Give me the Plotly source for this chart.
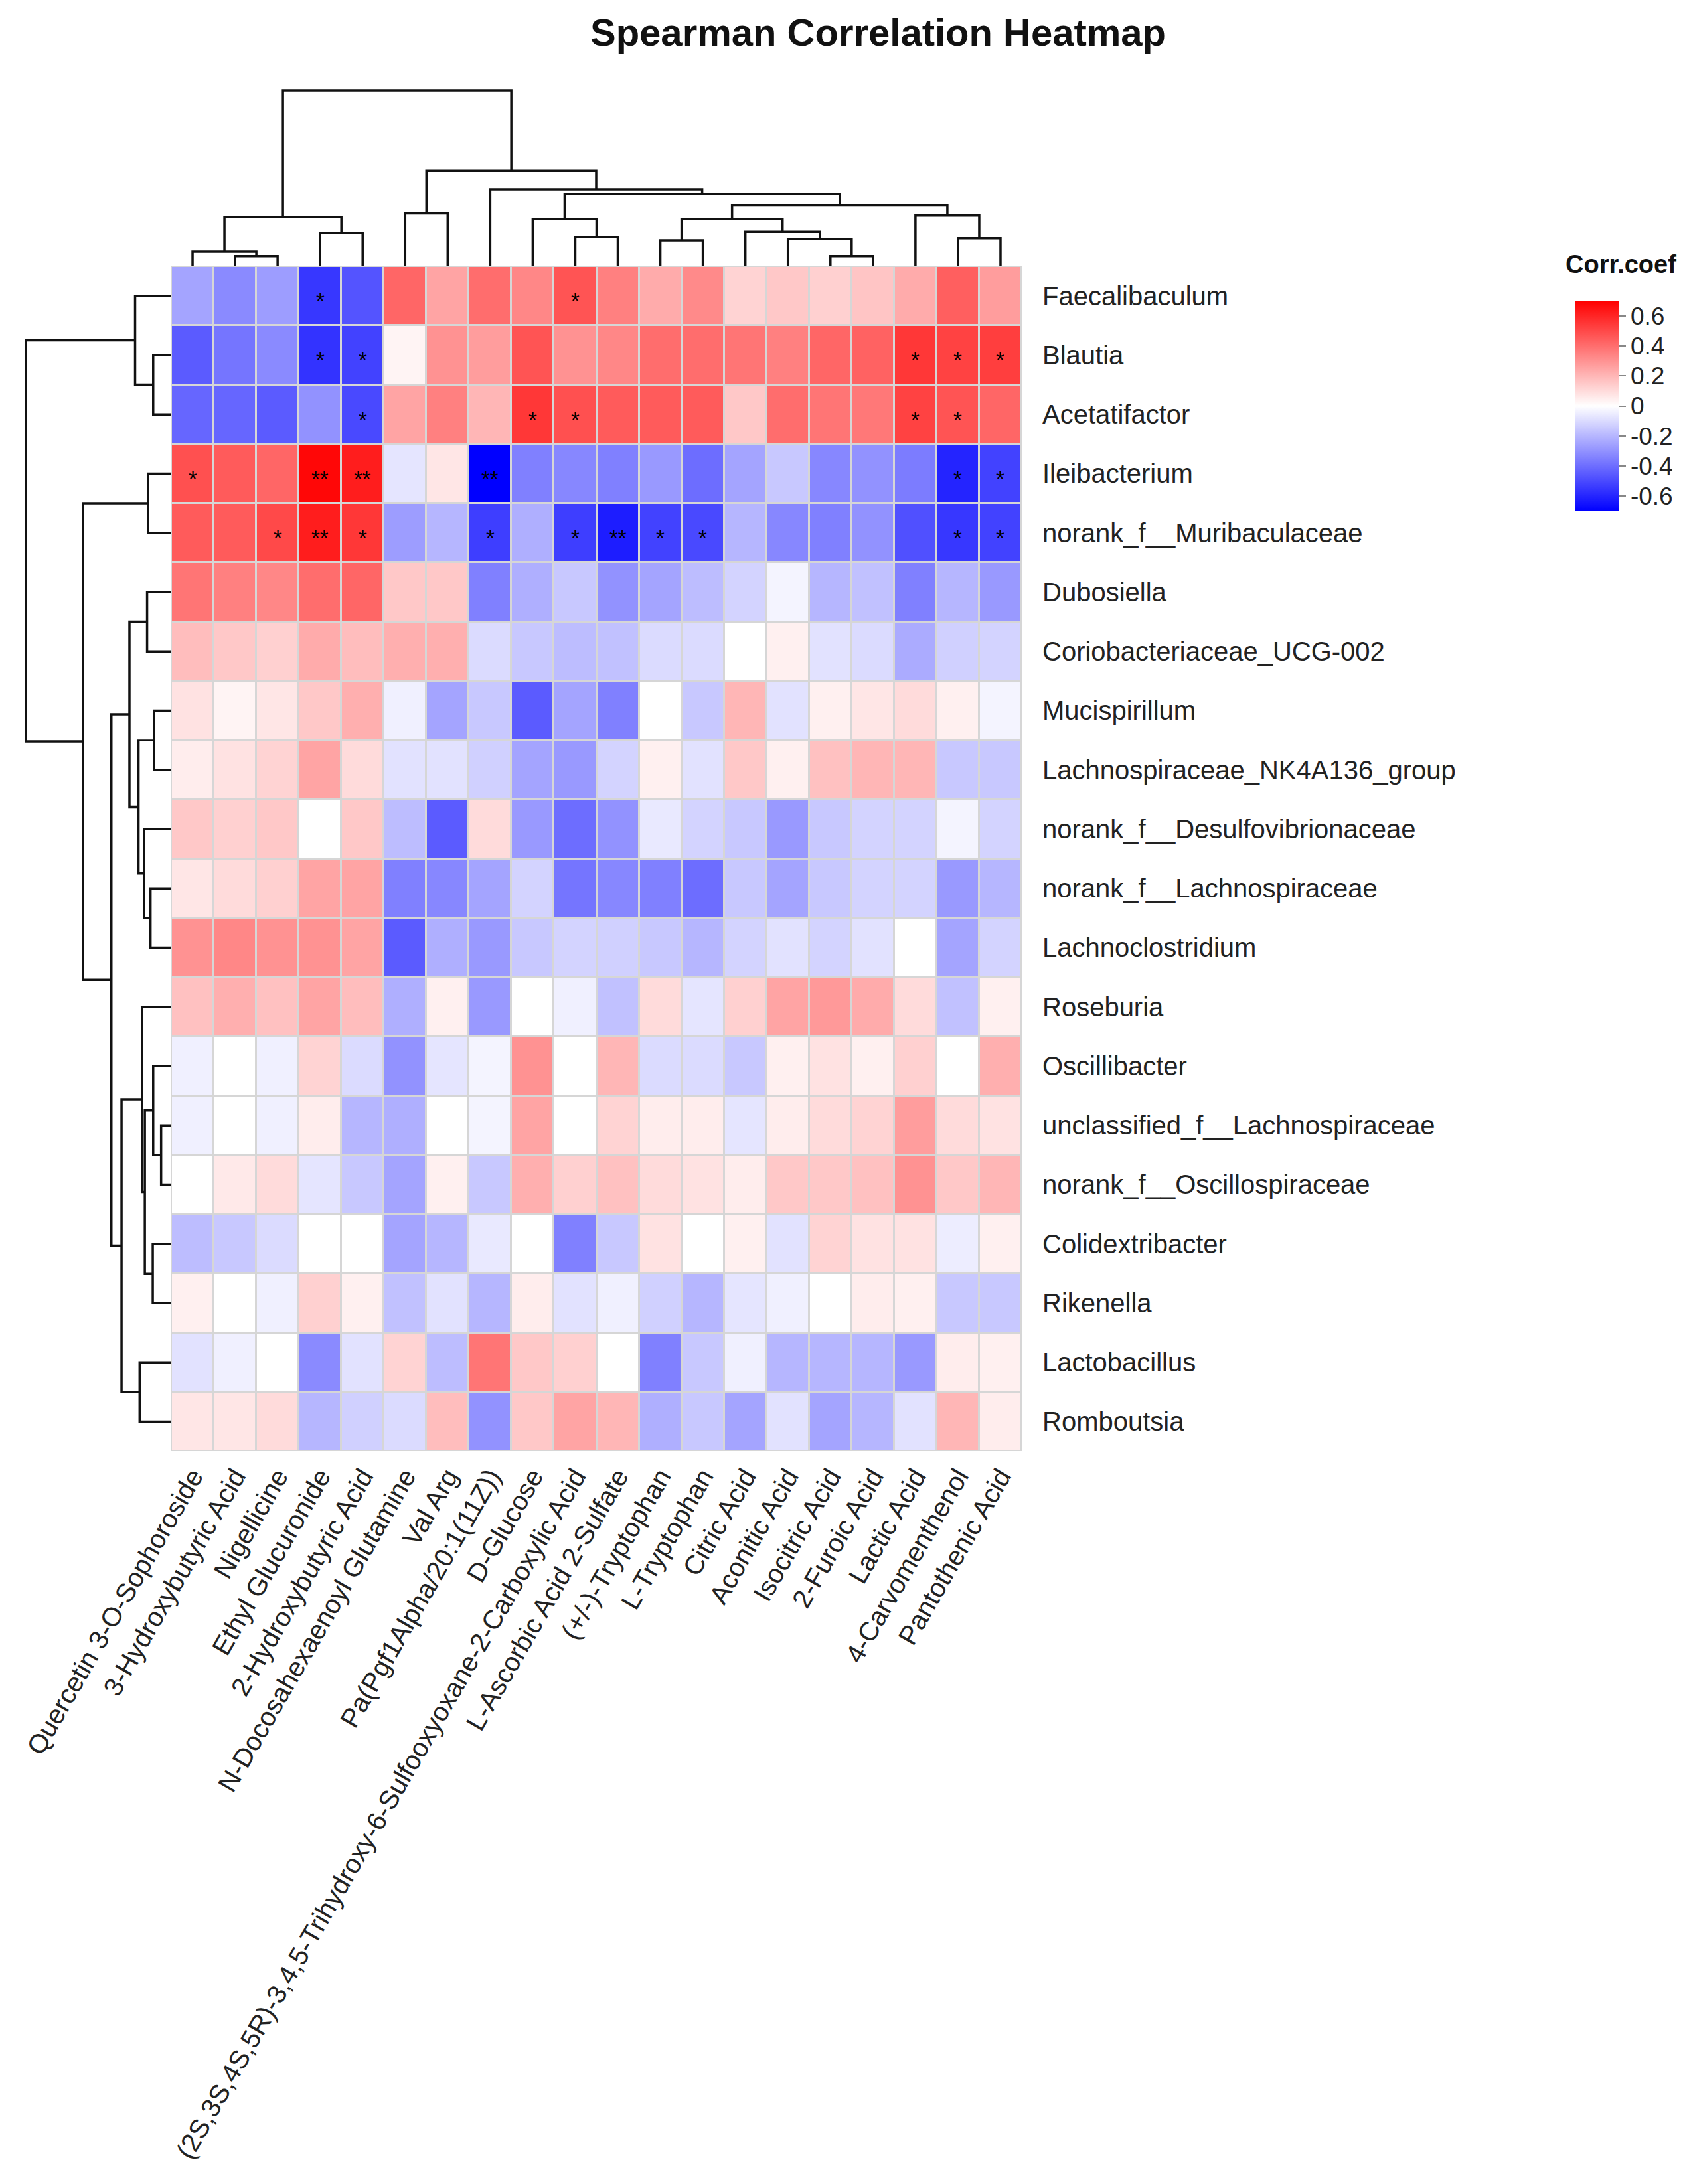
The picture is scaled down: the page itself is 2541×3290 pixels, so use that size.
import plotly.graph_objects as go

# ---------------- data ----------------
metabolites = [
    "Quercetin 3-O-Sophoroside", "3-Hydroxybutyric Acid", "Nigellicine",
    "Ethyl Glucuronide", "2-Hydroxybutyric Acid", "N-Docosahexaenoyl Glutamine",
    "Val Arg", "Pa(Pgf1Alpha/20:1(11Z))", "D-Glucose",
    "(2S,3S,4S,5R)-3,4,5-Trihydroxy-6-Sulfooxyoxane-2-Carboxylic Acid",
    "L-Ascorbic Acid 2-Sulfate", "(+/-)-Tryptophan", "L-Tryptophan",
    "Citric Acid", "Aconitic Acid", "Isocitric Acid", "2-Furoic Acid",
    "Lactic Acid", "4-Carvomenthenol", "Pantothenic Acid",
]

genera = [
    "Faecalibaculum", "Blautia", "Acetatifactor", "Ileibacterium",
    "norank_f__Muribaculaceae", "Dubosiella", "Coriobacteriaceae_UCG-002",
    "Mucispirillum", "Lachnospiraceae_NK4A136_group",
    "norank_f__Desulfovibrionaceae", "norank_f__Lachnospiraceae",
    "Lachnoclostridium", "Roseburia", "Oscillibacter",
    "unclassified_f__Lachnospiraceae", "norank_f__Oscillospiraceae",
    "Colidextribacter", "Rikenella", "Lactobacillus", "Romboutsia",
]

corr = [
    [-0.25, -0.32, -0.27, -0.55, -0.47, 0.42, 0.25, 0.40, 0.33, 0.47, 0.35, 0.23, 0.32, 0.12, 0.15, 0.13, 0.16, 0.23, 0.44, 0.27],
    [-0.45, -0.38, -0.32, -0.56, -0.52, 0.03, 0.30, 0.27, 0.47, 0.30, 0.33, 0.40, 0.40, 0.38, 0.35, 0.42, 0.43, 0.55, 0.52, 0.53],
    [-0.42, -0.42, -0.45, -0.30, -0.50, 0.25, 0.35, 0.20, 0.55, 0.48, 0.45, 0.45, 0.45, 0.15, 0.40, 0.38, 0.37, 0.52, 0.47, 0.42],
    [0.48, 0.45, 0.42, 0.68, 0.62, -0.07, 0.07, -0.70, -0.35, -0.33, -0.35, -0.28, -0.40, -0.25, -0.15, -0.33, -0.30, -0.36, -0.60, -0.52],
    [0.45, 0.45, 0.50, 0.62, 0.55, -0.27, -0.20, -0.53, -0.22, -0.53, -0.62, -0.52, -0.50, -0.20, -0.33, -0.35, -0.30, -0.48, -0.55, -0.52],
    [0.38, 0.35, 0.33, 0.40, 0.42, 0.15, 0.15, -0.35, -0.22, -0.15, -0.30, -0.25, -0.18, -0.12, -0.03, -0.20, -0.17, -0.35, -0.20, -0.28],
    [0.18, 0.15, 0.13, 0.23, 0.18, 0.22, 0.22, -0.10, -0.15, -0.18, -0.17, -0.10, -0.10, 0.00, 0.04, -0.08, -0.10, -0.23, -0.13, -0.12],
    [0.08, 0.03, 0.07, 0.15, 0.22, -0.04, -0.25, -0.15, -0.45, -0.25, -0.35, 0.00, -0.15, 0.20, -0.08, 0.04, 0.07, 0.10, 0.04, -0.03],
    [0.05, 0.08, 0.12, 0.25, 0.10, -0.08, -0.08, -0.13, -0.25, -0.28, -0.12, 0.04, -0.08, 0.15, 0.04, 0.17, 0.20, 0.20, -0.15, -0.15],
    [0.15, 0.13, 0.15, 0.00, 0.15, -0.18, -0.45, 0.10, -0.28, -0.40, -0.30, -0.06, -0.12, -0.15, -0.28, -0.15, -0.12, -0.12, -0.03, -0.12],
    [0.07, 0.10, 0.13, 0.25, 0.25, -0.35, -0.33, -0.25, -0.12, -0.38, -0.33, -0.35, -0.40, -0.15, -0.25, -0.15, -0.12, -0.12, -0.28, -0.20],
    [0.30, 0.33, 0.30, 0.30, 0.25, -0.45, -0.22, -0.28, -0.15, -0.12, -0.13, -0.15, -0.20, -0.12, -0.08, -0.12, -0.08, 0.00, -0.25, -0.12],
    [0.17, 0.22, 0.17, 0.25, 0.18, -0.22, 0.04, -0.28, 0.00, -0.04, -0.17, 0.10, -0.07, 0.13, 0.25, 0.28, 0.23, 0.10, -0.17, 0.04],
    [-0.04, 0.00, -0.04, 0.12, -0.10, -0.30, -0.07, -0.03, 0.30, 0.00, 0.20, -0.10, -0.10, -0.15, 0.04, 0.08, 0.04, 0.13, 0.00, 0.22],
    [-0.04, 0.00, -0.04, 0.05, -0.20, -0.22, 0.00, -0.03, 0.25, 0.00, 0.12, 0.05, 0.05, -0.07, 0.05, 0.10, 0.12, 0.27, 0.10, 0.08],
    [0.00, 0.06, 0.10, -0.07, -0.15, -0.25, 0.04, -0.15, 0.22, 0.13, 0.17, 0.10, 0.08, 0.05, 0.15, 0.15, 0.17, 0.30, 0.15, 0.20],
    [-0.18, -0.15, -0.10, 0.00, 0.00, -0.25, -0.20, -0.06, 0.00, -0.35, -0.15, 0.08, 0.00, 0.04, -0.08, 0.12, 0.08, 0.08, -0.05, 0.04],
    [0.04, 0.00, -0.04, 0.13, 0.04, -0.17, -0.08, -0.20, 0.05, -0.08, -0.04, -0.13, -0.20, -0.07, -0.04, 0.00, 0.05, 0.04, -0.15, -0.15],
    [-0.08, -0.04, 0.00, -0.32, -0.08, 0.12, -0.18, 0.38, 0.15, 0.13, 0.00, -0.35, -0.15, -0.04, -0.20, -0.20, -0.20, -0.28, 0.05, 0.04],
    [0.07, 0.07, 0.10, -0.20, -0.13, -0.10, 0.18, -0.30, 0.15, 0.25, 0.20, -0.22, -0.15, -0.25, -0.08, -0.25, -0.20, -0.08, 0.20, 0.05],
]

# significance marks: (row, column, mark)
signif = [
    (0, 3, "*"), (0, 9, "*"),
    (1, 3, "*"), (1, 4, "*"), (1, 17, "*"), (1, 18, "*"), (1, 19, "*"),
    (2, 4, "*"), (2, 8, "*"), (2, 9, "*"), (2, 17, "*"), (2, 18, "*"),
    (3, 0, "*"), (3, 3, "**"), (3, 4, "**"), (3, 7, "**"), (3, 18, "*"), (3, 19, "*"),
    (4, 2, "*"), (4, 3, "**"), (4, 4, "*"), (4, 7, "*"), (4, 9, "*"), (4, 10, "**"),
    (4, 11, "*"), (4, 12, "*"), (4, 18, "*"), (4, 19, "*"),
]

# dendrogram merges: (node_a, node_b, height); new nodes numbered from n upward
col_linkage = [
    (1, 2, 45), (0, 20, 65), (3, 4, 147), (21, 22, 218), (5, 6, 235),
    (9, 10, 130), (8, 25, 210), (11, 12, 115), (15, 16, 45), (14, 28, 122),
    (13, 29, 153), (27, 30, 210), (18, 19, 125), (17, 32, 225), (31, 33, 270),
    (26, 34, 323), (7, 35, 343), (24, 36, 425), (23, 37, 783),
]
row_linkage = [
    (1, 2, 80), (0, 20, 160), (3, 4, 102), (5, 6, 107), (7, 8, 77),
    (10, 11, 92), (9, 25, 120), (24, 26, 145), (23, 27, 185), (14, 15, 45),
    (13, 29, 80), (16, 17, 82), (30, 31, 117), (12, 32, 130), (18, 19, 140),
    (33, 34, 220), (28, 35, 265), (22, 36, 390), (21, 37, 643),
]

cb_ticks = [-0.6, -0.4, -0.2, 0, 0.2, 0.4, 0.6]

# ---------------- layout helpers ----------------
W, H = 2541, 3290
FONT = "Liberation Sans, Arial, Helvetica, sans-serif"


def fx(p):
    return p / W


def fy(p):
    return 1 - p / H


def dendro_lines(merges, n):
    pos = {i: float(i) for i in range(n)}
    hgt = {i: 0.0 for i in range(n)}
    xs, ys = [], []
    for k, (a, b, h) in enumerate(merges):
        node = n + k
        xs += [pos[a], pos[a], pos[b], pos[b], None]
        ys += [hgt[a], h, h, hgt[b], None]
        pos[node] = (pos[a] + pos[b]) / 2
        hgt[node] = h
    return xs, ys


nc, nr = len(metabolites), len(genera)

hm_x = [fx(250), fx(1531)]
hm_y = [fy(2178), fy(393)]

fig = go.Figure()

# grid colour behind the heatmap cells
fig.add_shape(type="rect", xref="x", yref="y", x0=-0.5, x1=nc - 0.5,
              y0=-0.5, y1=nr - 0.5, fillcolor="#d6d6d6",
              line=dict(color="#d6d6d6", width=2), layer="below")

fig.add_trace(go.Heatmap(
    z=corr, x=list(range(nc)), y=list(range(nr)),
    colorscale=[[0, "#0000FF"], [0.5, "#FFFFFF"], [1, "#FF0000"]],
    zmin=-0.7, zmax=0.7, xgap=3, ygap=3,
    colorbar=dict(
        x=fx(2355), xanchor="left", xref="paper",
        y=fy(603.5), yanchor="middle",
        thickness=66, thicknessmode="pixels",
        len=337, lenmode="pixels",
        outlinewidth=0,
        tickvals=cb_ticks,
        ticktext=["%g" % t for t in cb_ticks],
        ticks="outside", ticklen=10, tickcolor="#888888", tickwidth=2,
        tickfont=dict(family=FONT, size=37, color="#222222"),
    ),
    xaxis="x", yaxis="y",
    hoverinfo="skip",
))

# top dendrogram
tx, ty = dendro_lines(col_linkage, nc)
fig.add_trace(go.Scatter(x=tx, y=ty, mode="lines",
                         line=dict(color="#111111", width=3.5),
                         xaxis="x2", yaxis="y2", hoverinfo="skip",
                         showlegend=False))

# left dendrogram
lx, ly = dendro_lines(row_linkage, nr)
fig.add_trace(go.Scatter(x=ly, y=lx, mode="lines",
                         line=dict(color="#111111", width=3.5),
                         xaxis="x3", yaxis="y3", hoverinfo="skip",
                         showlegend=False))

annotations = []
for r, c, m in signif:
    annotations.append(dict(x=c, y=r, xref="x", yref="y", text=m,
                            showarrow=False, yshift=-8,
                            font=dict(family=FONT, size=33, color="#000000")))

annotations.append(dict(x=fx(1314), y=fy(40), xref="paper", yref="paper",
                        text="<b>Spearman Correlation Heatmap</b>",
                        showarrow=False, xanchor="center", yanchor="middle",
                        font=dict(family=FONT, size=58, color="#111111")))
annotations.append(dict(x=fx(2433), y=fy(390), xref="paper", yref="paper",
                        text="<b>Corr.coef</b>",
                        showarrow=False, xanchor="center", yanchor="middle",
                        font=dict(family=FONT, size=38, color="#111111")))

top_max = max(h for _, _, h in col_linkage)
left_max = max(h for _, _, h in row_linkage)
top_px = 265     # pixel height of the root above heatmap top
left_px = 219    # pixel width of the root left of heatmap

fig.update_layout(
    width=W, height=H, autosize=False,
    margin=dict(l=0, r=0, t=0, b=0),
    paper_bgcolor="white", plot_bgcolor="white",
    showlegend=False,
    annotations=annotations,
    xaxis=dict(domain=hm_x, range=[-0.5, nc - 0.5], tickmode="array",
               tickvals=list(range(nc)), ticktext=metabolites,
               tickangle=-60, ticks="", ticklabelstandoff=6,
               tickfont=dict(family=FONT, size=40, color="#222222"),
               showgrid=False, zeroline=False, showline=False,
               automargin=False, fixedrange=True),
    yaxis=dict(domain=hm_y, range=[nr - 0.5, -0.5], tickmode="array",
               tickvals=list(range(nr)), ticktext=genera, side="right",
               ticks="", ticklabelstandoff=30,
               tickfont=dict(family=FONT, size=40, color="#222222"),
               showgrid=False, zeroline=False, showline=False,
               automargin=False, fixedrange=True),
    xaxis2=dict(domain=hm_x, range=[-0.5, nc - 0.5], visible=False,
                anchor="y2", fixedrange=True),
    yaxis2=dict(domain=[fy(393), fy(393 - top_px * 800 / top_max)],
                range=[0, 800], visible=False, anchor="x2", fixedrange=True),
    xaxis3=dict(domain=[fx(250 - left_px * 660 / left_max), fx(250)],
                range=[660, 0], visible=False, anchor="y3", fixedrange=True),
    yaxis3=dict(domain=hm_y, range=[nr - 0.5, -0.5], visible=False,
                anchor="x3", fixedrange=True),
)

fig.write_html("out.html")
